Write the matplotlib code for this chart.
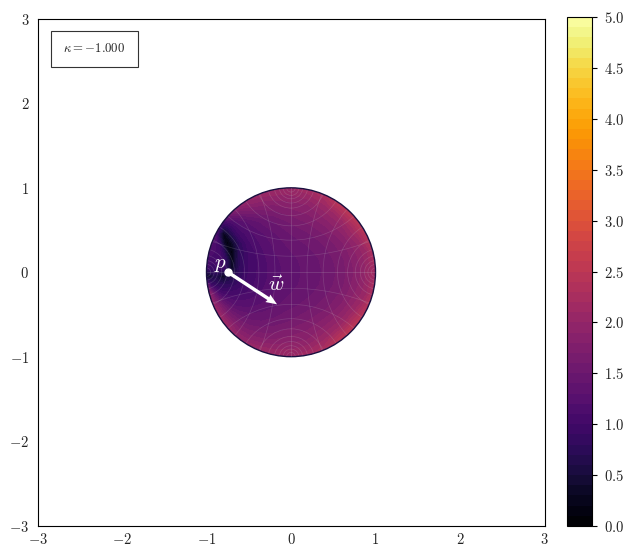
import matplotlib
matplotlib.use("Agg")
import matplotlib.pyplot as plt
import numpy as np
from matplotlib.patches import Circle, Rectangle

plt.rcParams["mathtext.fontset"] = "cm"
plt.rcParams["font.family"] = "serif"
plt.rcParams["font.serif"] = ["cmr10", "DejaVu Serif"]
plt.rcParams["axes.formatter.use_mathtext"] = True

# sample positions of the field
grid_x = [-1.0, -0.95, -0.9, -0.85, -0.8, -0.75, -0.7, -0.65, -0.6, -0.5, -0.35, -0.2, 0.0, 0.2, 0.4, 0.6, 0.8, 0.9, 1.0]
grid_y = [-1.0, -0.8, -0.6, -0.4, -0.25, -0.15, -0.05, 0.05, 0.15, 0.25, 0.35, 0.45, 0.6, 0.8, 1.0]

field = [
    [2.6, 2.6, 2.6, 2.6, 2.6, 2.6, 2.6, 2.55, 2.5, 2.4, 2.25, 2.15, 2.1, 2.2, 2.4, 2.5, 2.6, 2.6, 2.6],
    [2.6, 2.6, 2.6, 2.55, 2.5, 2.35, 2.2, 2.1, 2.0, 1.9, 1.82, 1.8, 1.85, 1.9, 2.1, 2.5, 2.6, 2.6, 2.6],
    [2.5, 2.5, 2.4, 2.3, 2.15, 2.0, 1.85, 1.75, 1.65, 1.55, 1.52, 1.55, 1.62, 1.72, 1.85, 2.05, 2.5, 2.6, 2.6],
    [2.3, 2.2, 2.0, 1.8, 1.6, 1.45, 1.35, 1.3, 1.28, 1.28, 1.32, 1.38, 1.47, 1.55, 1.65, 1.82, 2.1, 2.35, 2.6],
    [2.0, 1.8, 1.4, 1.15, 1.05, 1.05, 1.05, 1.05, 1.08, 1.12, 1.2, 1.3, 1.4, 1.47, 1.57, 1.72, 1.95, 2.1, 2.4],
    [1.6, 1.0, 0.85, 0.8, 0.8, 0.8, 0.85, 0.9, 0.95, 1.05, 1.17, 1.27, 1.37, 1.44, 1.53, 1.67, 1.9, 2.05, 2.3],
    [0.3, 0.45, 0.65, 0.5, 0.3, 0.55, 0.6, 0.75, 0.85, 1.02, 1.15, 1.25, 1.36, 1.43, 1.52, 1.65, 1.87, 2.02, 2.2],
    [1.0, 0.95, 0.95, 1.0, 0.95, 0.7, 0.3, 0.6, 0.82, 1.0, 1.15, 1.25, 1.36, 1.43, 1.52, 1.65, 1.87, 2.02, 2.2],
    [1.05, 1.05, 1.05, 1.05, 0.95, 0.65, 0.2, 0.55, 0.8, 1.0, 1.15, 1.27, 1.37, 1.44, 1.53, 1.67, 1.9, 2.05, 2.3],
    [1.15, 1.15, 1.1, 1.05, 0.8, 0.35, 0.15, 0.5, 0.8, 1.02, 1.18, 1.3, 1.4, 1.47, 1.57, 1.72, 1.95, 2.1, 2.4],
    [1.35, 1.25, 1.15, 0.95, 0.4, 0.1, 0.35, 0.6, 0.85, 1.08, 1.22, 1.33, 1.45, 1.52, 1.62, 1.78, 2.03, 2.28, 2.5],
    [1.65, 1.5, 1.25, 0.7, 0.25, 0.45, 0.7, 0.9, 1.02, 1.15, 1.27, 1.38, 1.5, 1.58, 1.7, 1.88, 2.2, 2.45, 2.6],
    [2.4, 2.2, 1.7, 1.25, 1.1, 1.12, 1.15, 1.2, 1.25, 1.32, 1.42, 1.5, 1.62, 1.72, 1.85, 2.05, 2.5, 2.6, 2.6],
    [2.6, 2.6, 2.6, 2.5, 2.4, 2.3, 2.15, 2.05, 1.95, 1.88, 1.82, 1.8, 1.85, 1.9, 2.1, 2.5, 2.6, 2.6, 2.6],
    [2.6, 2.6, 2.6, 2.6, 2.6, 2.6, 2.6, 2.55, 2.45, 2.35, 2.2, 2.15, 2.1, 2.2, 2.4, 2.5, 2.6, 2.6, 2.6],
]

# where the disc grid lines cross the two axes
grid_crossings = [0.19, 0.38, 0.55, 0.67, 0.76, 0.82, 0.87, 0.91, 0.95]

axis_ticks = [-3, -2, -1, 0, 1, 2, 3]
cbar_ticks = [0.0, 0.5, 1.0, 1.5, 2.0, 2.5, 3.0, 3.5, 4.0, 4.5, 5.0]
levels = np.linspace(0, 5, 51)

point_p = (-0.745, 0.0)
vector_w = (0.58, -0.38)
curvature = -1.0


def draw_geodesics(ax, disc):
    for a in [-c for c in grid_crossings] + grid_crossings:
        # circle meeting the unit circle at right angles
        center = (1 + a * a) / (2 * a)
        radius = abs(center - a)
        for xy in [(center, 0), (0, center)]:
            arc = Circle(xy, radius, fill=False, ec="#cccccc", lw=0.5, alpha=0.2)
            ax.add_patch(arc)
            arc.set_clip_path(disc)
    ax.plot([-1, 1], [0, 0], color="#cccccc", lw=0.5, alpha=0.25)[0].set_clip_path(disc)
    ax.plot([0, 0], [-1, 1], color="#cccccc", lw=0.5, alpha=0.25)[0].set_clip_path(disc)


fig = plt.figure(figsize=(6.3, 5.55), dpi=100)
ax = fig.add_axes([37.5 / 630, 1 - 525.5 / 555, 507 / 630, 506.5 / 555])
cax = fig.add_axes([566.5 / 630, 1 - 526 / 555, 25.5 / 630, 509 / 555])

disc = Circle((0, 0), 1.0, transform=ax.transData, fill=False, ec="none")
cs = ax.contourf(grid_x, grid_y, np.array(field), levels=levels, cmap="inferno")
cs.set_clip_path(disc)
draw_geodesics(ax, disc)
ax.add_patch(Circle((0, 0), 1.0, fill=False, ec="#1a1040", lw=1.0))

# tangent vector at p
ax.quiver(point_p[0], point_p[1], vector_w[0], vector_w[1], angles="xy", scale_units="xy", scale=1,
          color="white", width=0.0068, headwidth=2.6, headlength=3.2, headaxislength=3.0, zorder=5)
ax.plot(point_p[0], point_p[1], "o", color="white", ms=5, zorder=6)
ax.text(-0.91, 0.05, "$p$", color="white", fontsize=15, zorder=7)
ax.text(-0.27, -0.22, r"$\vec{w}$", color="white", fontsize=15, zorder=7)

ax.add_patch(Rectangle((0.0275, 0.906), 0.1715, 0.0705, transform=ax.transAxes, fill=False, ec="#333333", lw=0.8))
ax.text(0.05, 0.941, "$\\kappa = %.3f$" % curvature, transform=ax.transAxes, fontsize=9.2, va="center", color="#222222")

ax.set_xlim(-3, 3)
ax.set_ylim(-3, 3)
ax.set_xticks(axis_ticks)
ax.set_yticks(axis_ticks)
ax.set_xticklabels(["$%d$" % t for t in axis_ticks], fontsize=10.5)
ax.set_yticklabels(["$%d$" % t for t in axis_ticks], fontsize=10.5)
ax.tick_params(axis="x", length=0, pad=4.5, labelcolor="#222222")
ax.tick_params(axis="y", length=0, pad=6, labelcolor="#222222")

cbar = fig.colorbar(cs, cax=cax)
cbar.set_ticks(cbar_ticks)
cbar.set_ticklabels(["$%.1f$" % t for t in cbar_ticks], fontsize=10.5, color="#222222")
cbar.ax.tick_params(length=3.5, width=0.8, pad=5)

fig.savefig("out.png", dpi=100)
